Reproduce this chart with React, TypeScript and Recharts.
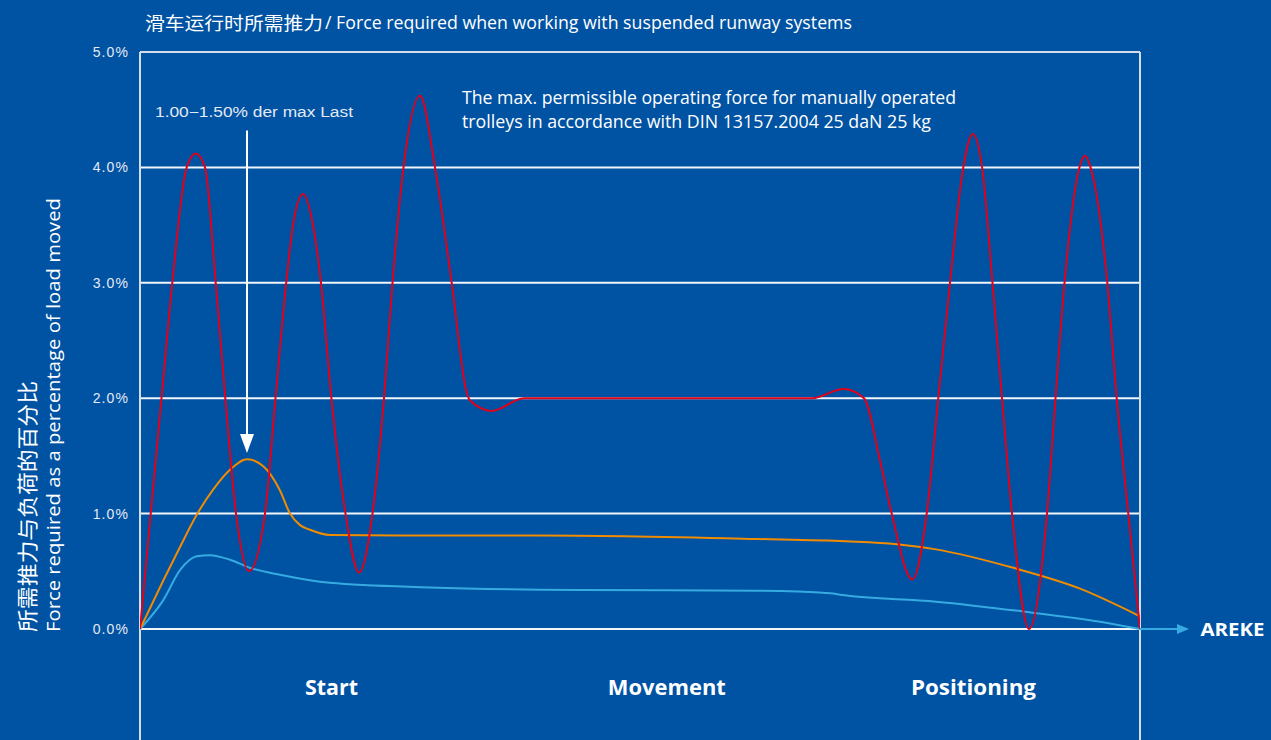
import { CartesianGrid, Line, LineChart, ReferenceDot, ReferenceLine, XAxis, YAxis } from "recharts";

// travel in % of the runway (0..100), force in % of the load moved
const redX = [0, 1.07, 2.15, 3.23, 4.67, 5.57, 6.5, 7.57, 8.53, 9.6, 10.9, 12.5, 13.55, 14.62, 15.3, 16.3, 17.3, 18.1, 19.14, 20.55, 21.9, 23.25, 24.4, 25.25, 26.35, 28.0, 29.5, 31.17, 32.67, 33.0, 35.17, 38.4, 67.2, 70.33, 72.4, 74.0, 75.17, 77.23, 78.67, 79.83, 81.0, 82.33, 83.27, 84.21, 85.25, 86.2, 87.2, 88.9, 90.7, 91.55, 92.45, 93.94, 94.5, 95.06, 96.73, 97.67, 98.83, 100];
const redY = [0, 1.0, 2.0, 3.0, 4.0, 4.12, 4.0, 3.0, 2.0, 1.0, 0.5, 1.0, 2.0, 3.0, 3.5, 3.77, 3.5, 3.0, 2.0, 1.0, 0.49, 1.0, 2.0, 3.0, 4.0, 4.62, 4.0, 3.0, 2.05, 1.98, 1.89, 2.0, 2.0, 2.08, 2.0, 1.46, 1.0, 0.43, 1.0, 2.0, 3.0, 4.0, 4.29, 4.0, 3.0, 2.0, 1.0, 0.0, 1.0, 2.0, 3.0, 4.0, 4.1, 4.0, 3.0, 2.0, 1.0, 0];

const orangeX = [0, 2.33, 4.0, 5.67, 7.33, 9.0, 10.73, 12.33, 14.0, 15.0, 16.0, 17.0, 19.0, 26, 40, 61.7, 70.6, 75.67, 79.6, 87.33, 94.0, 100];
const orangeY = [0, 0.42, 0.71, 0.99, 1.21, 1.38, 1.47, 1.41, 1.2, 1.0, 0.9, 0.86, 0.815, 0.81, 0.81, 0.78, 0.76, 0.735, 0.69, 0.53, 0.35, 0.11];

const blueX = [0, 2.33, 4.0, 5.67, 7.0, 9.0, 11.0, 14.0, 19.0, 29, 43.9, 61.7, 69, 70.2, 79.6, 88.5, 96, 100];
const blueY = [0, 0.25, 0.51, 0.63, 0.64, 0.6, 0.53, 0.47, 0.4, 0.36, 0.338, 0.332, 0.31, 0.295, 0.237, 0.15, 0.063, 0];

const yTicks = [0, 1, 2, 3, 4, 5];
const phaseTicks = [19.15, 52.68, 83.35];
const phaseLabels = ["Start", "Movement", "Positioning"];
const phaseWidths = [53, 118, 125];

const zip = (xs: number[], ys: number[]) => xs.map((x, i) => ({ x, y: ys[i] }));

const BG = "#0052a3";
const RED = "#e3001b";
const ORANGE = "#f08c00";
const LIGHTBLUE = "#36abe2";
const FRAME = "#d3ddeb";
const SANS = "'Open Sans', 'Noto Sans', sans-serif";

export default function App() {
  const red = zip(redX, redY);
  const orange = zip(orangeX, orangeY);
  const blue = zip(blueX, blueY);

  return (
    <div style={{ position: "absolute", left: 0, top: 0, width: 1271, height: 740, background: BG, overflow: "hidden" }}>
      <LineChart width={1271} height={740} margin={{ top: 52, right: 131, bottom: 51, left: 0 }}>
        <CartesianGrid vertical={false} stroke="#ffffff" strokeWidth={2} strokeOpacity={0.95} />
        <XAxis
          type="number"
          dataKey="x"
          domain={[0, 100]}
          allowDataOverflow
          ticks={phaseTicks}
          interval={0}
          axisLine={false}
          tickLine={false}
          tickSize={0}
          tickMargin={0}
          height={60}
          tick={(p: any) => {
            const i = phaseTicks.indexOf(p.payload.value);
            return (
              <text
                x={p.x}
                y={p.y + 66}
                textAnchor="middle"
                fill="#ffffff"
                fontFamily={SANS}
                fontWeight={700}
                fontSize={21}
                textLength={phaseWidths[i]}
                lengthAdjust="spacingAndGlyphs"
              >
                {phaseLabels[i]}
              </text>
            );
          }}
        />
        <YAxis
          type="number"
          dataKey="y"
          domain={[0, 5]}
          ticks={yTicks}
          interval={0}
          width={140}
          axisLine={false}
          tickLine={false}
          tickSize={0}
          tickMargin={11}
          tickFormatter={(v: number) => `${v.toFixed(1)}%`}
          tick={{ fill: "#e4eaf4", fontSize: 14, fontFamily: "'Liberation Sans', Arial, sans-serif", letterSpacing: 1.1 }}
        />

        {/* frame */}
        <ReferenceLine segment={[{ x: 0, y: -0.97 }, { x: 0, y: 5 }]} stroke={FRAME} strokeWidth={2} ifOverflow="visible" />
        <ReferenceLine segment={[{ x: 100, y: -0.97 }, { x: 100, y: 5 }]} stroke={FRAME} strokeWidth={2} ifOverflow="visible" />
        <ReferenceLine y={5} stroke={FRAME} strokeWidth={2} />

        <Line data={blue} dataKey="y" type="monotone" stroke={LIGHTBLUE} strokeWidth={2} dot={false} isAnimationActive={false} />
        <Line data={orange} dataKey="y" type="monotone" stroke={ORANGE} strokeWidth={2} dot={false} isAnimationActive={false} />
        <Line data={red} dataKey="y" type="monotone" stroke={RED} strokeWidth={2} dot={false} isAnimationActive={false} />

        {/* annotation arrow: 1.00-1.50% der max Last */}
        <ReferenceLine segment={[{ x: 10.7, y: 4.32 }, { x: 10.7, y: 1.68 }]} stroke="#ffffff" strokeWidth={2} ifOverflow="visible" />
        <ReferenceDot
          x={10.7}
          y={1.525}
          ifOverflow="visible"
          shape={(p: any) => (
            <polygon points={`${p.cx},${p.cy} ${p.cx - 7},${p.cy - 19} ${p.cx + 7},${p.cy - 19}`} fill="#ffffff" />
          )}
        />

        {/* travel axis arrow */}
        <ReferenceLine segment={[{ x: 100, y: 0 }, { x: 104.2, y: 0 }]} stroke={LIGHTBLUE} strokeWidth={2} ifOverflow="visible" />
        <ReferenceDot
          x={104.9}
          y={0}
          ifOverflow="visible"
          shape={(p: any) => (
            <g>
              <polygon points={`${p.cx},${p.cy} ${p.cx - 12},${p.cy - 5} ${p.cx - 12},${p.cy + 5}`} fill={LIGHTBLUE} />
              <text
                x={p.cx + 11.5}
                y={p.cy + 7}
                fill="#ffffff"
                fontFamily={SANS}
                fontWeight={700}
                fontSize={18}
                textLength={64}
                lengthAdjust="spacingAndGlyphs"
              >
                AREKE
              </text>
            </g>
          )}
        />
      </LineChart>

      <svg width={1271} height={740} style={{ position: "absolute", left: 0, top: 0, pointerEvents: "none" }}>
        <text x={145} y={30} fill="#ffffff" fontSize={18} fontFamily="'Noto Sans CJK SC', sans-serif" textLength={178} lengthAdjust="spacingAndGlyphs">
          滑车运行时所需推力
        </text>
        <text x={325} y={29} fill="#ffffff" fontSize={18} fontFamily={SANS} textLength={527} lengthAdjust="spacingAndGlyphs">
          / Force required when working with suspended runway systems
        </text>

        <text x={155} y={116.5} fill="#e4eaf4" fontSize={14} fontFamily="'Liberation Sans', Arial, sans-serif" textLength={198} lengthAdjust="spacingAndGlyphs">
          1.00−1.50% der max Last
        </text>

        <text x={462} y={104} fill="#ffffff" fontSize={18} fontFamily={SANS} textLength={494} lengthAdjust="spacingAndGlyphs">
          The max. permissible operating force for manually operated
        </text>
        <text x={462} y={128} fill="#ffffff" fontSize={18} fontFamily={SANS} textLength={469} lengthAdjust="spacingAndGlyphs">
          trolleys in accordance with DIN 13157.2004 25 daN 25 kg
        </text>

        <text transform="translate(34.5,632) rotate(-90)" fill="#ffffff" fontSize={21} fontFamily="'Noto Sans CJK SC', sans-serif" textLength={251} lengthAdjust="spacingAndGlyphs">
          所需推力与负荷的百分比
        </text>
        <text transform="translate(59.5,632) rotate(-90)" fill="#ffffff" fontSize={18} fontFamily={SANS} textLength={434} lengthAdjust="spacingAndGlyphs">
          Force required as a percentage of load moved
        </text>
      </svg>
    </div>
  );
}
